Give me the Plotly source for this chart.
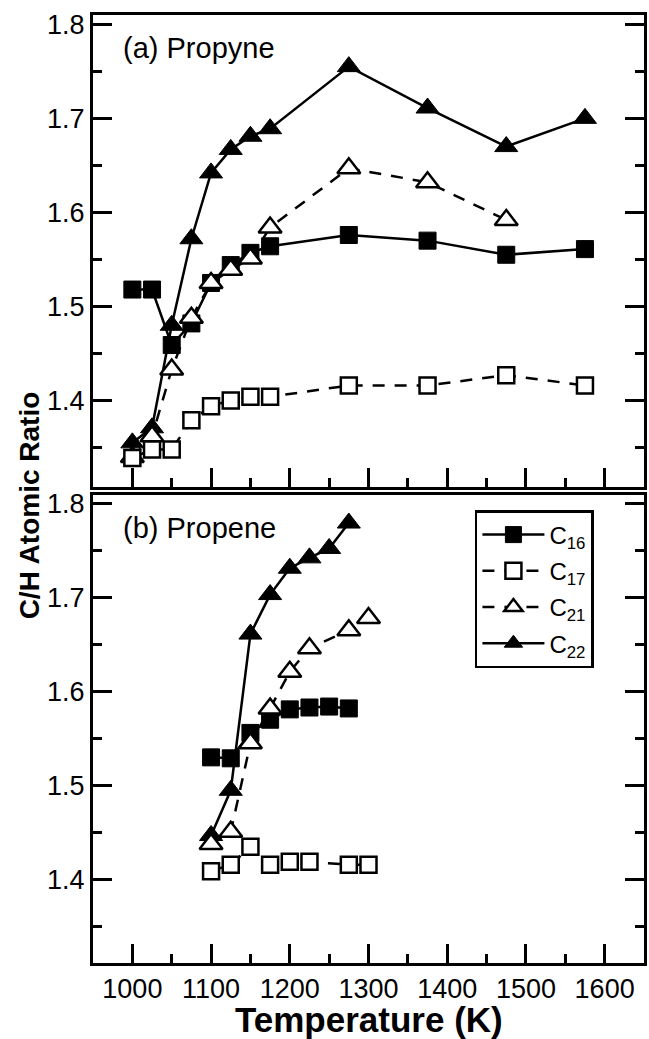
import plotly.graph_objects as go

# ---------------- data ----------------
# (a) Propyne
a_T16 = [1000, 1025, 1050, 1075, 1100, 1125, 1150, 1175, 1275, 1375, 1475, 1575]
a_C16 = [1.518, 1.518, 1.459, 1.482, 1.525, 1.544, 1.557, 1.564, 1.576, 1.570, 1.555, 1.561]
a_T17 = [1000, 1025, 1050, 1075, 1100, 1125, 1150, 1175, 1275, 1375, 1475, 1575]
a_C17 = [1.339, 1.348, 1.348, 1.379, 1.394, 1.400, 1.404, 1.404, 1.416, 1.416, 1.427, 1.416]
a_T21 = [1000, 1025, 1050, 1075, 1100, 1125, 1150, 1175, 1275, 1375, 1475]
a_C21 = [1.340, 1.362, 1.433, 1.488, 1.525, 1.539, 1.551, 1.584, 1.647, 1.632, 1.592]
a_T22 = [1000, 1025, 1050, 1075, 1100, 1125, 1150, 1175, 1275, 1375, 1475, 1575]
a_C22 = [1.355, 1.371, 1.480, 1.572, 1.642, 1.667, 1.681, 1.689, 1.755, 1.711, 1.670, 1.700]

# (b) Propene
b_T16 = [1100, 1125, 1150, 1175, 1200, 1225, 1250, 1275]
b_C16 = [1.530, 1.529, 1.556, 1.570, 1.581, 1.583, 1.584, 1.582]
b_T17 = [1100, 1125, 1150, 1175, 1200, 1225, 1275, 1300]
b_C17 = [1.409, 1.416, 1.435, 1.416, 1.419, 1.419, 1.416, 1.416]
b_T21 = [1100, 1125, 1150, 1175, 1200, 1225, 1275, 1300]
b_C21 = [1.438, 1.451, 1.545, 1.582, 1.621, 1.646, 1.665, 1.678]
b_T22 = [1100, 1125, 1150, 1175, 1200, 1225, 1250, 1275]
b_C22 = [1.447, 1.495, 1.661, 1.703, 1.731, 1.742, 1.752, 1.779]

series_names = ["C<sub>16</sub>", "C<sub>17</sub>", "C<sub>21</sub>", "C<sub>22</sub>"]
panel_labels = ["(a) Propyne", "(b) Propene"]
x_ticks = [1000, 1100, 1200, 1300, 1400, 1500, 1600]
y_ticks = [1.4, 1.5, 1.6, 1.7, 1.8]

# ---------------- geometry ----------------
W, H = 649, 1039
ML, MR, MT, MB = 93, 2, 15, 76
PW = W - ML - MR
PH = H - MT - MB


def py(pix):
    return (H - MB - pix) / PH


def px(pix):
    return (pix - ML) / PW


FONT = "Liberation Sans, Arial, Helvetica, sans-serif"

styles = {
    "C16": dict(symbol="square", size=17, lw=1, dash="solid", fill="black"),
    "C17": dict(symbol="square", size=16, lw=2.5, dash="12px,10px", fill="white"),
    "C21": dict(symbol="triangle-up", size=20, lw=2.5, dash="12px,10px", fill="white"),
    "C22": dict(symbol="triangle-up", size=20, lw=1, dash="solid", fill="black"),
}

fig = go.Figure()


def add(T, V, key, name, rank, xa, ya, show):
    s = styles[key]
    fig.add_trace(go.Scatter(
        x=T, y=V, mode="lines+markers", name=name,
        xaxis=xa, yaxis=ya, showlegend=show, legendrank=rank,
        legendgroup=key,
        line=dict(color="black", width=2.5, dash=s["dash"]),
        marker=dict(symbol=s["symbol"], size=s["size"], color=s["fill"],
                    line=dict(color="black", width=s["lw"])),
    ))


# drawing order: C16, C22, C21, C17 (later on top)
for show, xa, ya, data in [
    (False, "x", "y", dict(C16=(a_T16, a_C16), C17=(a_T17, a_C17), C21=(a_T21, a_C21), C22=(a_T22, a_C22))),
    (True, "x2", "y2", dict(C16=(b_T16, b_C16), C17=(b_T17, b_C17), C21=(b_T21, b_C21), C22=(b_T22, b_C22))),
]:
    for key, rank in [("C16", 1), ("C22", 4), ("C21", 3), ("C17", 2)]:
        T, V = data[key]
        add(T, V, key, series_names[rank - 1], rank, xa, ya, show)

axis_common = dict(
    showline=True, linecolor="black", linewidth=3, mirror=True,
    showgrid=False, zeroline=False,
    ticks="inside", tickcolor="black", tickwidth=2.5,
    tickfont=dict(family=FONT, size=27, color="black"),
)

xa_common = dict(axis_common, range=[950, 1650], tickvals=x_ticks, ticklen=19,
                 minor=dict(ticks="inside", ticklen=9, tickwidth=2.5, tickcolor="black",
                            tickvals=[1050, 1150, 1250, 1350, 1450, 1550]))
ya_common = dict(axis_common, tickvals=y_ticks, ticklen=19, ticktext=[str(v) for v in y_ticks])
ya_common["mirror"] = "ticks"
ya_common["minor"] = dict(ticks="inside", ticklen=9, tickwidth=2.5, tickcolor="black",
                          tickvals=[1.35, 1.45, 1.55, 1.65, 1.75])

top_dom = [py(486.5), 1.0]
bot_dom = [0.0, py(495)]

fig.update_layout(
    width=W, height=H,
    margin=dict(l=ML, r=MR, t=MT, b=MB),
    paper_bgcolor="white", plot_bgcolor="white",
    xaxis=dict(xa_common, anchor="y", showticklabels=False),
    yaxis=dict(ya_common, domain=top_dom, range=[1.3086, 1.8099], anchor="x"),
    xaxis2=dict(xa_common, anchor="y2", matches="x"),
    yaxis2=dict(ya_common, domain=bot_dom, range=[1.3115, 1.8088], anchor="x2"),
    showlegend=True,
    legend=dict(
        x=px(477), y=py(510), xanchor="left", yanchor="top",
        bordercolor="black", borderwidth=2.5, bgcolor="white",
        font=dict(family=FONT, size=24, color="black"),
        traceorder="grouped", tracegroupgap=2, itemwidth=62,
    ),
    annotations=[
        dict(text=panel_labels[0], x=px(121), y=py(48), xref="paper", yref="paper",
             xanchor="left", yanchor="middle", showarrow=False,
             font=dict(family=FONT, size=29, color="black")),
        dict(text=panel_labels[1], x=px(121), y=py(528), xref="paper", yref="paper",
             xanchor="left", yanchor="middle", showarrow=False,
             font=dict(family=FONT, size=29, color="black")),
        dict(text="<b>C/H Atomic Ratio</b>", x=px(29), y=py(505), xref="paper", yref="paper",
             xanchor="center", yanchor="middle", textangle=-90, showarrow=False,
             font=dict(family=FONT, size=28, color="black")),
        dict(text="<b>Temperature (K)</b>", x=px(371), y=py(1019), xref="paper", yref="paper",
             xanchor="center", yanchor="middle", showarrow=False,
             font=dict(family=FONT, size=35, color="black")),
    ],
)

fig.write_html("out.html", config={"displayModeBar": False},
               post_script="document.body.style.margin='0px';document.body.style.overflow='hidden';")
